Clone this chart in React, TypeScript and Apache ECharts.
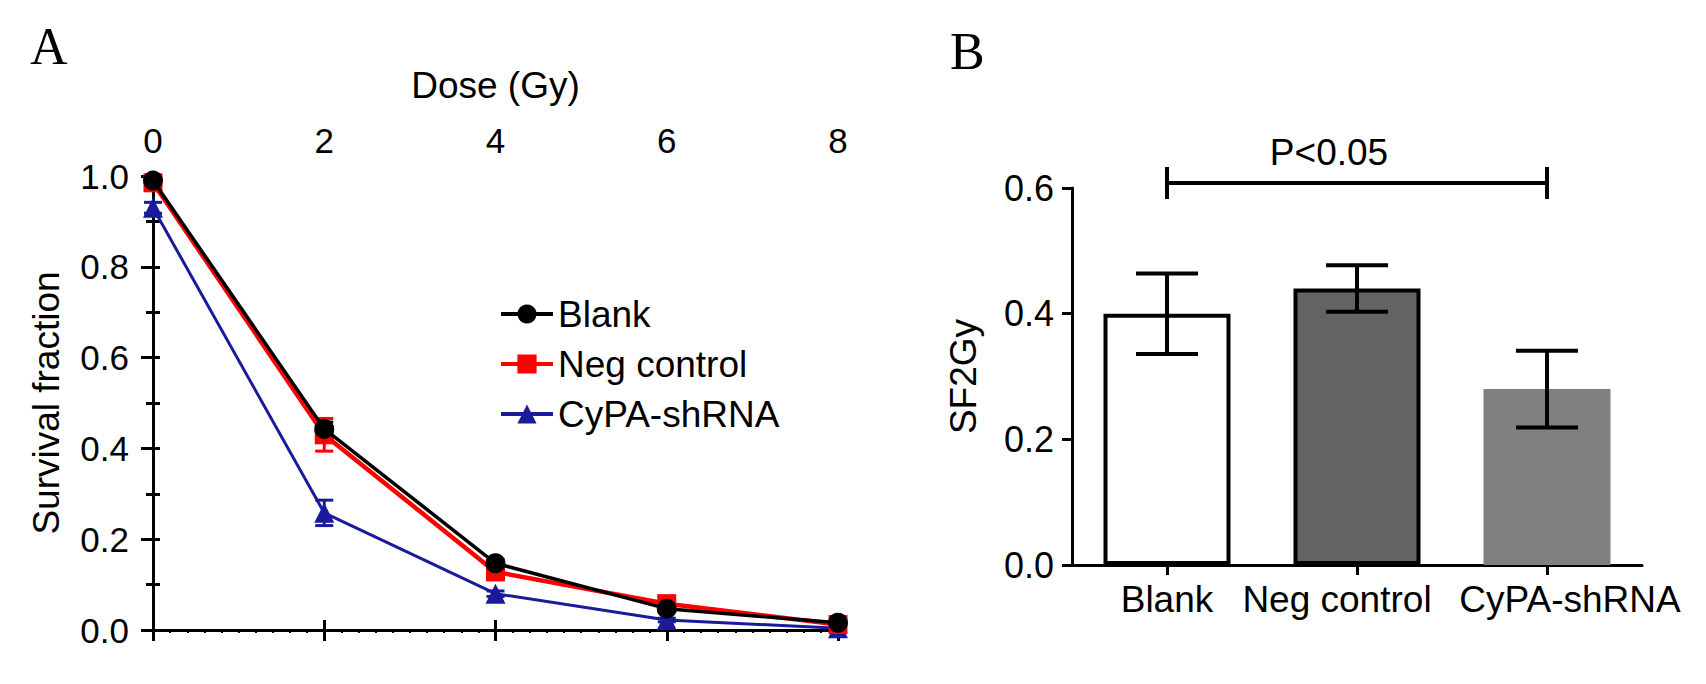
import React, { useEffect, useRef } from 'react';
import * as echarts from 'echarts';

// Panel A: survival curves
const doses = [0, 2, 4, 6, 8];
const blankSF = [0.99, 0.443, 0.147, 0.047, 0.016];
const blankErr = [0.008, 0.015, 0.008, 0.005, 0.004];
const negSF = [0.985, 0.43, 0.128, 0.058, 0.012];
const negErr = [0.01, 0.036, 0.008, 0.006, 0.004];
const cypaSF = [0.93, 0.258, 0.08, 0.022, 0.004];
const cypaErr = [0.012, 0.028, 0.006, 0.004, 0.002];
const curveNames = ['Blank', 'Neg control', 'CyPA-shRNA'];

// Panel B: SF2Gy bars
const groups = ['Blank', 'Neg control', 'CyPA-shRNA'];
const sf2Gy = [0.4, 0.44, 0.28];
const sf2GyErr = [0.064, 0.037, 0.061];
const barFills = ['#ffffff', '#636363', '#808080'];
const barBorders = [4, 4, 0];
// horizontal nudge of each category label (px), as in the original figure
const labelShift = [0, -20, 23];

// significance bracket
const sigFrom = 'Blank';
const sigTo = 'CyPA-shRNA';
const sigLevel = 0.608;
const sigLabel = 'P<0.05';

const FONT = "'Liberation Sans', Arial, sans-serif";

const errorBars = (capHalf: number, lineWidth: number, color: string) =>
  (params: any, api: any) => {
    const x = api.value(0);
    const top = api.coord([x, api.value(2)]);
    const bot = api.coord([x, api.value(1)]);
    const style = { stroke: color, lineWidth };
    return {
      type: 'group',
      children: [
        { type: 'line', shape: { x1: top[0], y1: top[1], x2: bot[0], y2: bot[1] }, style },
        { type: 'line', shape: { x1: top[0] - capHalf, y1: top[1], x2: top[0] + capHalf, y2: top[1] }, style },
        { type: 'line', shape: { x1: bot[0] - capHalf, y1: bot[1], x2: bot[0] + capHalf, y2: bot[1] }, style },
      ],
    };
  };

const errData = (vals: number[], errs: number[]) =>
  doses.map((d, i) => [d, vals[i] - errs[i], vals[i] + errs[i]]);

const App: React.FC = () => {
  const chartRef = useRef<HTMLDivElement>(null);

  useEffect(() => {
    document.body.style.margin = '0';
    if (!chartRef.current) return;
    const chart = echarts.init(chartRef.current, null, { renderer: 'svg' });

    const axisLine = { show: true, lineStyle: { color: '#000', width: 3 } };
    const label = { color: '#000', fontSize: 35, fontFamily: FONT };
    const nameStyle = { color: '#000', fontSize: 37, fontFamily: FONT };

    const catRich: Record<string, any> = {};
    labelShift.forEach((s, i) => {
      catRich['c' + i] = {
        color: '#000', fontSize: 37, fontFamily: FONT,
        padding: s < 0 ? [0, -2 * s, 0, 0] : [0, 0, 0, 2 * s],
      };
    });

    chart.setOption({
      animation: false,
      backgroundColor: '#fff',
      textStyle: { fontFamily: FONT },
      grid: [
        { left: 153, top: 176, width: 685, height: 454 },
        { left: 1072, top: 188, width: 570, height: 377 },
      ],
      legend: {
        data: curveNames,
        orient: 'vertical',
        left: 494,
        top: 290,
        itemWidth: 52,
        itemHeight: 24,
        itemGap: 12,
        lineStyle: { width: 4 },
        textStyle: { color: '#000', fontSize: 37, fontFamily: FONT, lineHeight: 38 },
      },
      xAxis: [
        {
          gridIndex: 0, type: 'value', position: 'top', min: 0, max: 8, interval: 2,
          name: 'Dose (Gy)', nameLocation: 'middle', nameGap: 72,
          nameTextStyle: nameStyle,
          axisLine, axisTick: { show: true, length: 10, lineStyle: { width: 3, color: '#000' } },
          axisLabel: { ...label, margin: 18 },
          splitLine: { show: false },
        },
        {
          gridIndex: 0, type: 'value', position: 'bottom', min: 0, max: 8, interval: 2,
          axisLine, axisTick: { show: true, length: 11, lineStyle: { width: 3, color: '#000' } },
          minorTick: { show: true, splitNumber: 10, length: 3, lineStyle: { width: 2, color: '#000' } },
          axisLabel: { show: false },
          splitLine: { show: false },
        },
        {
          gridIndex: 1, type: 'category', data: groups,
          axisLine, axisTick: { show: true, alignWithLabel: true, length: 10, lineStyle: { width: 3, color: '#000' } },
          axisLabel: {
            ...label, fontSize: 37, margin: 16, interval: 0,
            formatter: (v: string) => `{c${groups.indexOf(v)}|${v}}`,
            rich: catRich,
          },
        },
      ],
      yAxis: [
        {
          gridIndex: 0, type: 'value', min: 0, max: 1, interval: 0.2, position: 'left',
          name: 'Survival fraction', nameLocation: 'middle', nameGap: 88,
          nameTextStyle: nameStyle,
          axisLine, axisTick: { show: true, length: 12, lineStyle: { width: 3, color: '#000' } },
          minorTick: { show: true, splitNumber: 2, length: 7, lineStyle: { width: 3, color: '#000' } },
          axisLabel: { ...label, margin: 24, formatter: (v: number) => v.toFixed(1) },
          splitLine: { show: false },
        },
        {
          gridIndex: 0, type: 'value', min: 0, max: 1, interval: 0.1, position: 'right',
          axisLine, axisTick: { show: true, length: 7, lineStyle: { width: 3, color: '#000' } },
          axisLabel: { show: false },
          splitLine: { show: false },
        },
        {
          gridIndex: 1, type: 'value', min: 0, max: 0.6, interval: 0.2,
          name: 'SF2Gy', nameLocation: 'middle', nameGap: 90,
          nameTextStyle: nameStyle,
          axisLine, axisTick: { show: true, length: 10, lineStyle: { width: 3, color: '#000' } },
          axisLabel: { ...label, fontSize: 36, margin: 18, formatter: (v: number) => v.toFixed(1) },
          splitLine: { show: false },
        },
      ],
      graphic: [
        { type: 'text', left: 30, top: 20, style: { text: 'A', font: "52px 'Liberation Serif', 'Times New Roman', serif", fill: '#000' } },
        { type: 'text', left: 950, top: 25, style: { text: 'B', font: "52px 'Liberation Serif', 'Times New Roman', serif", fill: '#000' } },
      ],
      series: [
        {
          type: 'custom', xAxisIndex: 0, yAxisIndex: 0, z: 1,
          renderItem: errorBars(9, 3, '#1a1a9c'), data: errData(cypaSF, cypaErr),
        },
        {
          type: 'custom', xAxisIndex: 0, yAxisIndex: 0, z: 1,
          renderItem: errorBars(9, 3, '#ff0000'), data: errData(negSF, negErr),
        },
        {
          type: 'custom', xAxisIndex: 0, yAxisIndex: 0, z: 1,
          renderItem: errorBars(9, 3, '#000000'), data: errData(blankSF, blankErr),
        },
        {
          name: 'CyPA-shRNA', type: 'line', xAxisIndex: 0, yAxisIndex: 0, z: 2,
          data: doses.map((d, i) => [d, cypaSF[i]]),
          symbol: 'triangle', symbolSize: 20,
          lineStyle: { color: '#1a1a9c', width: 3 }, itemStyle: { color: '#1a1a9c' },
        },
        {
          name: 'Neg control', type: 'line', xAxisIndex: 0, yAxisIndex: 0, z: 3,
          data: doses.map((d, i) => [d, negSF[i]]),
          symbol: 'rect', symbolSize: 19,
          lineStyle: { color: '#ff0000', width: 4.5 }, itemStyle: { color: '#ff0000' },
        },
        {
          name: 'Blank', type: 'line', xAxisIndex: 0, yAxisIndex: 0, z: 4,
          data: doses.map((d, i) => [d, blankSF[i]]),
          symbol: 'circle', symbolSize: 20,
          lineStyle: { color: '#000000', width: 3.5 }, itemStyle: { color: '#000000' },
        },
        {
          type: 'bar', xAxisIndex: 2, yAxisIndex: 2, barWidth: 127,
          data: sf2Gy.map((v, i) => ({
            value: v,
            itemStyle: { color: barFills[i], borderColor: '#000', borderWidth: barBorders[i] },
          })),
        },
        {
          type: 'custom', xAxisIndex: 2, yAxisIndex: 2, z: 5,
          renderItem: errorBars(31, 4, '#000'),
          data: groups.map((g, i) => [i, sf2Gy[i] - sf2GyErr[i], sf2Gy[i] + sf2GyErr[i]]),
        },
        {
          type: 'custom', xAxisIndex: 2, yAxisIndex: 2, z: 5, clip: false,
          data: [[groups.indexOf(sigFrom), groups.indexOf(sigTo), sigLevel]],
          renderItem: (params: any, api: any) => {
            const a = api.coord([api.value(0), api.value(2)]);
            const b = api.coord([api.value(1), api.value(2)]);
            const style = { stroke: '#000', lineWidth: 4 };
            return {
              type: 'group',
              children: [
                { type: 'line', shape: { x1: a[0], y1: a[1], x2: b[0], y2: b[1] }, style },
                { type: 'line', shape: { x1: a[0], y1: a[1] - 16, x2: a[0], y2: a[1] + 16 }, style },
                { type: 'line', shape: { x1: b[0], y1: b[1] - 16, x2: b[0], y2: b[1] + 16 }, style },
                {
                  type: 'text',
                  style: {
                    text: sigLabel, x: (a[0] + b[0]) / 2 - 28, y: a[1] - 12,
                    align: 'center', verticalAlign: 'bottom',
                    fill: '#000', font: `37px ${FONT}`,
                  },
                },
              ],
            };
          },
        },
      ],
    });

    return () => {
      chart.dispose();
    };
  }, []);

  return <div ref={chartRef} style={{ width: '1706px', height: '684px' }}></div>;
};

export default App;
